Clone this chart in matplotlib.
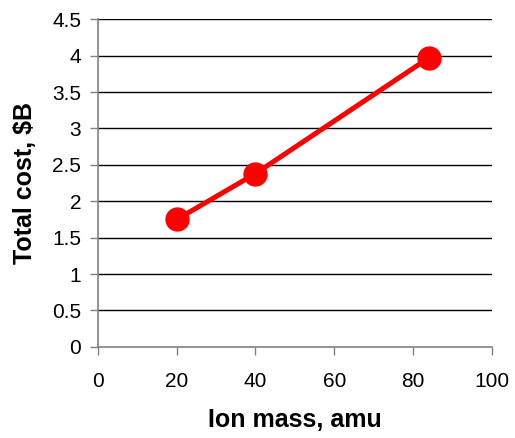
import matplotlib
matplotlib.use("Agg")
import matplotlib.pyplot as plt

# data
ion_mass = [20, 40, 84]
total_cost = [1.75, 2.38, 3.97]
x_ticks = [0, 20, 40, 60, 80, 100]
y_ticks = [0, 0.5, 1, 1.5, 2, 2.5, 3, 3.5, 4, 4.5]

plt.rcParams['font.family'] = ['Liberation Sans', 'DejaVu Sans']

fig = plt.figure(figsize=(5.15, 4.38), dpi=100)
ax = fig.add_axes([0.19, 0.208, 0.765, 0.748])

# horizontal grid lines
for y in y_ticks[1:]:
  ax.axhline(y, color='black', lw=1, zorder=1)

ax.plot(ion_mass, total_cost, color='#ff0000', lw=3.6, marker='o',
        markersize=16.5, zorder=3, clip_on=False)

ax.set_xlim(0, 100)
ax.set_ylim(0, 4.5)
ax.set_xticks(x_ticks)
ax.set_yticks(y_ticks)
ax.set_yticklabels([('%g' % v) for v in y_ticks])

for s in ['top', 'right']:
  ax.spines[s].set_visible(False)
for s in ['left', 'bottom']:
  ax.spines[s].set_color('#808080')
  ax.spines[s].set_linewidth(1.2)

ax.tick_params(axis='both', direction='out', length=6, width=1, color='#808080',
               labelsize=15)
ax.tick_params(axis='x', pad=12)
ax.tick_params(axis='y', pad=6)

ax.set_xlabel('Ion mass, amu', fontsize=18, fontweight='bold', labelpad=12)
ax.set_ylabel('Total cost, $B', fontsize=18, fontweight='bold', labelpad=11)

fig.savefig('out.png', dpi=100)
